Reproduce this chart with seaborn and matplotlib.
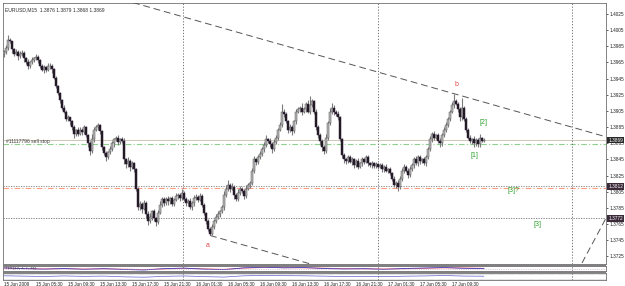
import matplotlib
matplotlib.use("Agg")
import matplotlib.pyplot as plt
import seaborn as sns
import pandas as pd
from matplotlib.patches import Rectangle

# ---------------- data ----------------
closes = [
    1.3978, 1.3983, 1.3993, 1.3991, 1.3981, 1.3976, 1.3978, 1.3973, 1.3975, 1.3977,
    1.3971, 1.3966, 1.3961, 1.3965, 1.3968, 1.3970, 1.3972, 1.3968, 1.3961, 1.3956,
    1.3959, 1.3956, 1.3960, 1.3961, 1.3957, 1.3946, 1.3936, 1.3927, 1.3919, 1.3909,
    1.3904, 1.3895, 1.3897, 1.3892, 1.3885, 1.3876, 1.3881, 1.3877, 1.3882, 1.3879,
    1.3885, 1.3875, 1.3865, 1.3855, 1.3870, 1.3882, 1.3885, 1.3887, 1.3880, 1.3860,
    1.3853, 1.3848, 1.3854, 1.3858, 1.3865, 1.3870, 1.3871, 1.3866, 1.3870, 1.3868,
    1.3845, 1.3839, 1.3843, 1.3836, 1.3840, 1.3833, 1.3809, 1.3786, 1.3790, 1.3784,
    1.3791, 1.3778, 1.3769, 1.3774, 1.3781, 1.3772, 1.3768, 1.3779, 1.3789, 1.3796,
    1.3791, 1.3796, 1.3793, 1.3797, 1.3790, 1.3795, 1.3800, 1.3801, 1.3797, 1.3804,
    1.3796, 1.3791, 1.3794, 1.3786, 1.3791, 1.3797, 1.3799, 1.3795, 1.3800, 1.3789,
    1.3779, 1.3769, 1.3759, 1.3753, 1.3762, 1.3769, 1.3774, 1.3778, 1.3781, 1.3786,
    1.3801, 1.3809, 1.3813, 1.3809, 1.3811, 1.3801, 1.3796, 1.3804, 1.3809, 1.3806,
    1.3800, 1.3809, 1.3813, 1.3816, 1.3831, 1.3845, 1.3842, 1.3848, 1.3852, 1.3858,
    1.3863, 1.3870, 1.3868, 1.3864, 1.3858, 1.3866, 1.3872, 1.3882, 1.3888, 1.3904,
    1.3901, 1.3892, 1.3882, 1.3885, 1.3880, 1.3892, 1.3904, 1.3907, 1.3909, 1.3904,
    1.3907, 1.3914, 1.3904, 1.3912, 1.3917, 1.3904, 1.3885, 1.3875, 1.3868, 1.3860,
    1.3855, 1.3872, 1.3890, 1.3904, 1.3909, 1.3904, 1.3901, 1.3897, 1.3870, 1.3850,
    1.3845, 1.3843, 1.3848, 1.3842, 1.3845, 1.3838, 1.3843, 1.3836, 1.3840, 1.3845,
    1.3842, 1.3848, 1.3840, 1.3838, 1.3840, 1.3837, 1.3839, 1.3836, 1.3838, 1.3833,
    1.3836, 1.3831, 1.3833, 1.3828, 1.3821, 1.3813, 1.3816, 1.3811, 1.3821, 1.3831,
    1.3836, 1.3831, 1.3826, 1.3833, 1.3838, 1.3845, 1.3840, 1.3848, 1.3843, 1.3845,
    1.3840, 1.3848, 1.3858, 1.3870, 1.3877, 1.3872, 1.3875, 1.3868, 1.3865, 1.3875,
    1.3882, 1.3887, 1.3895, 1.3904, 1.3912, 1.3917, 1.3914, 1.3907, 1.3897, 1.3909,
    1.3895, 1.3882, 1.3872, 1.3868, 1.3870, 1.3865, 1.3869, 1.3864, 1.3871, 1.3868,
    1.3869,
]
first_open = 1.3975

upper_wick_pips = [
    2, 3, 6, 2, 1, 2, 3, 2, 4, 3, 2, 1, 3, 2, 4, 2, 3, 2, 1, 2,
    3, 2, 4, 3, 2, 1, 2, 1, 2, 1, 3, 2, 3, 1, 2, 3, 2, 4, 3, 2,
    2, 1, 2, 3, 6, 3, 2, 3, 2, 1, 2, 3, 2, 4, 3, 2, 3, 4, 2, 3,
    3, 2, 5, 2, 3, 2, 1, 2, 3, 2, 4, 2, 3, 5, 2, 3, 2, 3, 4, 2,
    3, 2, 4, 2, 3, 2, 4, 3, 2, 5, 2, 3, 2, 3, 2, 4, 3, 2, 3, 2,
    2, 1, 2, 2, 3, 2, 4, 3, 2, 3, 5, 4, 6, 3, 5, 2, 3, 4, 3, 2,
    3, 4, 3, 2, 3, 4, 2, 3, 4, 2, 3, 5, 2, 3, 2, 4, 3, 2, 3, 10,
    4, 3, 2, 4, 3, 2, 4, 3, 2, 6, 3, 2, 4, 12, 3, 2, 3, 2, 3, 2,
    3, 4, 3, 5, 6, 3, 2, 4, 2, 2, 3, 2, 3, 2, 3, 2, 3, 4, 2, 3,
    2, 3, 2, 2, 3, 2, 3, 2, 3, 2, 2, 3, 2, 3, 2, 3, 2, 3, 4, 3,
    3, 2, 3, 4, 2, 3, 4, 2, 3, 2, 3, 2, 3, 4, 2, 3, 2, 3, 4, 3,
    3, 4, 3, 2, 4, 9, 3, 2, 3, 12, 2, 3, 2, 3, 2, 4, 2, 3, 5, 2,
    3,
]
lower_wick_pips = [
    3, 2, 3, 2, 4, 3, 2, 5, 3, 2, 6, 3, 4, 3, 2, 3, 2, 4, 3, 2,
    4, 3, 2, 3, 5, 2, 3, 2, 4, 3, 2, 3, 2, 4, 3, 5, 2, 3, 2, 4,
    3, 2, 4, 5, 2, 3, 2, 3, 4, 3, 2, 5, 3, 2, 3, 4, 2, 3, 2, 3,
    6, 4, 3, 5, 3, 4, 3, 4, 3, 5, 2, 6, 5, 3, 4, 3, 5, 3, 2, 3,
    3, 2, 4, 3, 2, 3, 2, 4, 3, 2, 3, 4, 3, 2, 4, 3, 2, 3, 2, 3,
    3, 4, 3, 2, 2, 3, 2, 3, 4, 2, 3, 2, 3, 4, 2, 5, 3, 2, 3, 2,
    4, 3, 2, 3, 2, 3, 4, 3, 2, 3, 4, 2, 3, 4, 5, 3, 2, 3, 2, 3,
    3, 2, 4, 3, 5, 2, 3, 2, 3, 4, 2, 3, 2, 3, 2, 3, 4, 3, 5, 4,
    3, 2, 3, 2, 3, 4, 2, 3, 2, 3, 5, 4, 3, 2, 4, 3, 2, 3, 2, 3,
    3, 2, 3, 2, 4, 3, 2, 3, 2, 4, 3, 2, 3, 2, 3, 2, 3, 5, 2, 3,
    3, 2, 4, 3, 2, 3, 2, 3, 4, 3, 2, 3, 2, 3, 4, 3, 2, 3, 4, 3,
    2, 3, 2, 3, 2, 3, 2, 3, 4, 3, 2, 3, 2, 3, 4, 5, 3, 4, 3, 2,
    1,
]

time_labels = ["15 Jun 2009", "15 Jun 05:30", "15 Jun 09:30", "15 Jun 13:30",
               "15 Jun 17:30", "15 Jun 21:30", "16 Jun 01:30", "16 Jun 05:30",
               "16 Jun 09:30", "16 Jun 13:30", "16 Jun 17:30", "16 Jun 21:30",
               "17 Jun 01:30", "17 Jun 05:30", "17 Jun 09:30"]
time_label_bars = [0, 16, 32, 48, 64, 80, 96, 112, 128, 144, 160, 176, 192, 208, 224]
day_separator_bars = [89.5, 187, 284]

price_ticks = [1.4025, 1.4005, 1.3985, 1.3965, 1.3945, 1.3925, 1.3905, 1.3885,
               1.3865, 1.3845, 1.3825, 1.3805, 1.3785, 1.3765, 1.3745, 1.3725]

bid_price = 1.3869
sell_stop_price = 1.3864
level_1 = 1.3812
stop_line = 1.3810
level_2 = 1.3772

upper_trend = ([64.5, 301.0], [1.4039, 1.3873])
lower_trend = ([103.0, 160.0], [1.3751, 1.3711])
steep_trend = ([289.0, 302.0], [1.3717, 1.3777])

wave_labels = ["b", "a", "[2]", "[1]", "[3]?", "[3]"]
wave_x = [226, 102, 239.5, 235, 254.5, 266.5]
wave_y = [1.3938, 1.3738, 1.3891, 1.3850, 1.3806, 1.3765]
wave_colors = ["#e04848", "#e04848", "#30a030", "#30a030", "#30a030", "#30a030"]

tdi_bars = [0, 10, 20, 30, 40, 50, 60, 70, 80, 90, 100, 110, 120, 130, 140, 150,
            160, 170, 180, 190, 200, 210, 220, 230, 240]
tdi_red = [55, 50, 45, 48, 44, 46, 42, 38, 45, 52, 46, 40, 55, 62, 60, 58,
           54, 48, 46, 44, 47, 52, 58, 56, 52]
tdi_blue = [58, 48, 42, 50, 40, 48, 38, 32, 48, 55, 42, 36, 58, 66, 58, 62,
            50, 44, 48, 40, 50, 56, 62, 52, 50]
osc_blue = [60, 55, 50, 58, 52, 56, 45, 40, 52, 58, 48, 42, 60, 66, 62, 60,
            55, 50, 52, 48, 54, 58, 64, 56, 54]

# ---------------- figure ----------------
sns.set_style("white")
plt.rcParams["font.family"] = ["Liberation Sans", "DejaVu Sans"]

W, H = 625, 286
fig = plt.figure(figsize=(W / 100, H / 100), dpi=100)
fig.patch.set_facecolor("white")


def fax(x0, y0, x1, y1):
    return fig.add_axes([x0 / W, 1 - y1 / H, (x1 - x0) / W, (y1 - y0) / H])


ax = fax(3, 3, 606, 264)
ax1 = fax(3, 266, 606, 271)
ax2 = fax(3, 273, 606, 280)

n = len(closes)
opens = [first_open] + closes[:-1]
df = pd.DataFrame({"bar": range(n), "open": opens, "close": closes,
                   "uw": upper_wick_pips, "lw": lower_wick_pips})
df["high"] = df[["open", "close"]].max(axis=1) + df["uw"] * 0.0001
df["low"] = df[["open", "close"]].min(axis=1) - df["lw"] * 0.0001
bull = df["close"] >= df["open"]

ax.vlines(df["bar"], df["low"], df["high"], color="#7c7c7c", lw=0.8, zorder=3)
ax.bar(df.loc[bull, "bar"], (df.loc[bull, "close"] - df.loc[bull, "open"]).clip(lower=0.00005),
       bottom=df.loc[bull, "open"], width=1.0, color="#b4b4b4", edgecolor="#5a5a5a",
       linewidth=0.35, zorder=4)
ax.bar(df.loc[~bull, "bar"], df.loc[~bull, "close"] - df.loc[~bull, "open"],
       bottom=df.loc[~bull, "open"], width=1.0, color="#1a1a1a", edgecolor="#3a1f45",
       linewidth=0.35, zorder=4)

xlim = (-0.5, 301)
ylim = (1.37157, 1.40385)
ax.set_xlim(*xlim)
ax.set_ylim(*ylim)

# horizontal levels
ax.axhline(bid_price, color="#cfc6b4", lw=0.7, zorder=2)
ax.axhline(sell_stop_price, color="#8fd08f", lw=0.8, ls=(0, (5, 2, 1, 2)), zorder=2)
ax.axhline(level_1, color="#808080", lw=0.6, ls=(0, (1.5, 1.5)), zorder=2)
ax.axhline(stop_line, color="#ff9c80", lw=0.8, ls=(0, (5, 2, 1, 2)), zorder=2)
ax.axhline(level_2, color="#707070", lw=0.6, ls=(0, (1.5, 1.5)), zorder=2)
for b in day_separator_bars:
    ax.axvline(b, color="#606060", lw=0.6, ls=(0, (1.5, 2)), zorder=2)

# trend lines
for xs, ys in (upper_trend, lower_trend, steep_trend):
    sns.lineplot(x=xs, y=ys, ax=ax, color="#555555", lw=0.7,
                 linestyle=(0, (7, 4)), zorder=5)
ax.set_xlim(*xlim)
ax.set_ylim(*ylim)

for t, x, y, c in zip(wave_labels, wave_x, wave_y, wave_colors):
    ax.text(x, y, t, color=c, fontsize=5, ha="center", va="center", zorder=6)

ax.text(1, sell_stop_price + 0.00005, "#11117796 sell stop", fontsize=3.6,
        color="#404040", ha="left", va="bottom", zorder=6)
ax.text(0.003, 0.985, "EURUSD,M15  1.3876 1.3879 1.3868 1.3869",
        transform=ax.transAxes, fontsize=3.6, color="#303030", ha="left", va="top")

# price axis
ax.yaxis.tick_right()
ax.set_yticks(price_ticks)
ax.set_yticklabels([f"{p:.4f}" for p in price_ticks])
ax.tick_params(axis="y", labelsize=3.4, length=1.5, width=0.5, pad=1.2,
               colors="#202020")
ax.set_xticks([])
for lvl, bg in ((bid_price, "#2a2a2a"), (level_1, "#3a2a3a"), (level_2, "#3a2a3a")):
    ax.text(1.0035, lvl, f"{lvl:.4f}", transform=ax.get_yaxis_transform(),
            fontsize=3.4, color="white", ha="left", va="center",
            bbox=dict(boxstyle="square,pad=0.2", fc=bg, ec="none"), zorder=7)

# indicator panels
sns.lineplot(x=tdi_bars, y=tdi_red, ax=ax1, color="#ff6060", lw=0.6)
sns.lineplot(x=tdi_bars, y=tdi_blue, ax=ax1, color="#4040c0", lw=0.6)
ax1.axhline(50, color="#c0a0c0", lw=0.4, ls=(0, (2, 2)))
ax1.set_xlim(*xlim)
ax1.set_ylim(20, 80)
ax1.text(0.003, 0.5, "TDI (13, 2, 7, 34)", transform=ax1.transAxes, fontsize=3,
         color="#303030", va="center")

sns.lineplot(x=tdi_bars, y=osc_blue, ax=ax2, color="#6060d0", lw=0.5)
ax2.axhline(80, color="#a0a0a0", lw=0.4, ls=(0, (1, 1)))
ax2.axhline(20, color="#a0a0a0", lw=0.4, ls=(0, (1, 1)))
ax2.set_xlim(*xlim)
ax2.set_ylim(0, 100)
for b in day_separator_bars:
    for a in (ax1, ax2):
        a.axvline(b, color="#606060", lw=0.6, ls=(0, (1.5, 2)))

for a in (ax1, ax2):
    a.set_yticks([])
    a.set_ylabel("")
    a.set_xlabel("")
ax1.set_xticks([])
ax2.set_xticks(time_label_bars)
ax2.set_xticklabels(time_labels, ha="left")
ax2.tick_params(axis="x", labelsize=3.3, length=1.5, width=0.5, pad=0.3,
                colors="#202020")
ax.set_xlabel("")
ax.set_ylabel("")

for a in (ax, ax1, ax2):
    for s in a.spines.values():
        s.set_color("#707070")
        s.set_linewidth(0.6)

# panel separators
for y0, y1 in ((264, 266.5), (271, 273)):
    fig.patches.append(Rectangle((3 / W, 1 - y1 / H), 603 / W, (y1 - y0) / H,
                                 transform=fig.transFigure, fc="#808080",
                                 ec="none", zorder=10))

fig.savefig("out.png", dpi=100, facecolor="white")
